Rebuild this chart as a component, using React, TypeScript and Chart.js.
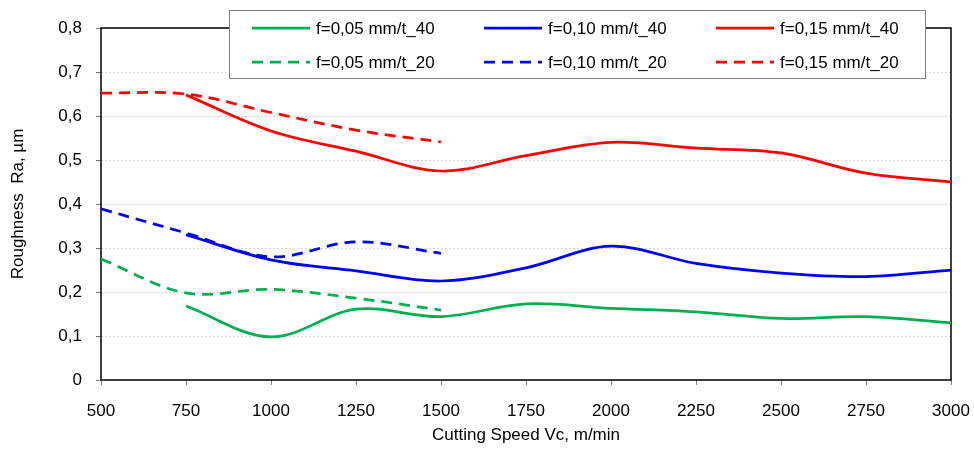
import React, { useEffect, useRef } from "react";
import { Chart, registerables } from "chart.js";

Chart.register(...registerables);

// ---- data ----
const speeds40 = [750, 1000, 1250, 1500, 1750, 2000, 2250, 2500, 2750, 3000];
const speeds20 = [500, 750, 1000, 1250, 1500];

const ra005_40 = [0.168, 0.098, 0.161, 0.144, 0.173, 0.163, 0.155, 0.14, 0.144, 0.13];
const ra010_40 = [0.33, 0.273, 0.248, 0.225, 0.255, 0.304, 0.265, 0.243, 0.235, 0.25];
const ra015_40 = [0.648, 0.566, 0.52, 0.475, 0.51, 0.54, 0.527, 0.516, 0.47, 0.45];

const ra005_20 = [0.275, 0.198, 0.206, 0.186, 0.159];
const ra010_20 = [0.389, 0.334, 0.28, 0.314, 0.288];
const ra015_20 = [0.652, 0.65, 0.608, 0.568, 0.541];

const seriesLabels = [
  "f=0,05 mm/t_40",
  "f=0,10 mm/t_40",
  "f=0,15 mm/t_40",
  "f=0,05 mm/t_20",
  "f=0,10 mm/t_20",
  "f=0,15 mm/t_20",
];

const xMin = 500;
const xMax = 3000;
const xStep = 250;
const yMin = 0;
const yMax = 0.8;
const yStep = 0.1;

const GREEN = "#00B050";
const BLUE = "#0000FF";
const RED = "#FF0000";
const DASH = [11, 7];
const FONT = '"Liberation Sans", Arial, sans-serif';

const toPoints = (xs: number[], ys: number[]) => xs.map((x, i) => ({ x, y: ys[i] }));

const framePlugin = {
  id: "frame",
  beforeDatasetsDraw(chart: any) {
    const { ctx, chartArea } = chart;
    const { left, top, right, bottom } = chartArea;
    ctx.save();
    ctx.strokeStyle = "#000";
    ctx.lineWidth = 1.5;
    ctx.setLineDash([]);
    ctx.strokeRect(left, top, right - left, bottom - top);
    ctx.restore();
  },
};

const legendPlugin = {
  id: "gridLegend",
  afterDraw(chart: any) {
    const { ctx } = chart;
    ctx.save();
    const bx = 229.5, by = 10.5, bw = 696, bh = 68;
    ctx.fillStyle = "#fff";
    ctx.fillRect(bx, by, bw, bh);
    ctx.strokeStyle = "#808080";
    ctx.lineWidth = 1;
    ctx.setLineDash([]);
    ctx.strokeRect(bx, by, bw, bh);
    chart.data.datasets.forEach((ds: any, i: number) => {
      const col = i % 3;
      const row = Math.floor(i / 3);
      const lx = 252 + col * 232;
      const y = 28 + row * 34;
      ctx.beginPath();
      ctx.strokeStyle = ds.borderColor;
      ctx.lineWidth = ds.borderWidth;
      ctx.setLineDash(ds.borderDash || []);
      ctx.moveTo(lx, y);
      ctx.lineTo(lx + 58, y);
      ctx.stroke();
      ctx.setLineDash([]);
      ctx.fillStyle = "#000";
      ctx.font = `17px ${FONT}`;
      ctx.textBaseline = "middle";
      ctx.textAlign = "left";
      ctx.fillText(ds.label, lx + 64, y + 1);
    });
    ctx.restore();
  },
};

export default function App() {
  const ref = useRef<HTMLCanvasElement | null>(null);

  useEffect(() => {
    document.body.style.margin = "0";
    if (!ref.current) return;
    const mk = (label: string, xs: number[], ys: number[], color: string, dashed: boolean) => ({
      label,
      data: toPoints(xs, ys),
      borderColor: color,
      backgroundColor: color,
      borderWidth: 2.75,
      borderDash: dashed ? DASH : [],
      pointRadius: 0,
      tension: 0.35,
      fill: false,
    });
    const chart = new Chart(ref.current, {
      type: "line",
      data: {
        datasets: [
          mk(seriesLabels[0], speeds40, ra005_40, GREEN, false),
          mk(seriesLabels[1], speeds40, ra010_40, BLUE, false),
          mk(seriesLabels[2], speeds40, ra015_40, RED, false),
          mk(seriesLabels[3], speeds20, ra005_20, GREEN, true),
          mk(seriesLabels[4], speeds20, ra010_20, BLUE, true),
          mk(seriesLabels[5], speeds20, ra015_20, RED, true),
        ],
      },
      options: {
        animation: false,
        responsive: false,
        devicePixelRatio: 1,
        layout: { padding: { top: 28, right: 23, left: 0, bottom: 0 } },
        plugins: { legend: { display: false }, tooltip: { enabled: false } },
        font: { family: FONT, size: 17 },
        scales: {
          x: {
            type: "linear",
            min: xMin,
            max: xMax,
            afterFit: (s: any) => {
              s.height = 69;
              s.paddingLeft = 0;
              s.paddingRight = 0;
            },
            ticks: {
              stepSize: xStep,
              autoSkip: false,
              maxRotation: 0,
              padding: 16,
              color: "#000",
              font: { family: FONT, size: 17 },
              callback: (v: any) => String(v),
            },
            grid: {
              drawOnChartArea: false,
              drawTicks: true,
              tickLength: 5,
              tickColor: "#808080",
            },
            border: { display: false },
            title: {
              display: true,
              text: "Cutting Speed Vc, m/min",
              color: "#000",
              font: { family: FONT, size: 17 },
              padding: { top: 4, bottom: 3 },
            },
          },
          y: {
            type: "linear",
            min: yMin,
            max: yMax,
            afterFit: (s: any) => {
              s.width = 101;
              s.paddingTop = 0;
              s.paddingBottom = 0;
            },
            ticks: {
              stepSize: yStep,
              padding: 14,
              color: "#000",
              font: { family: FONT, size: 17 },
              callback: (v: any) => (Number(v) === 0 ? "0" : Number(v).toFixed(1).replace(".", ",")),
            },
            grid: {
              color: "#d4d4d4",
              lineWidth: 1,
              borderDash: [2, 2],
              tickLength: 5,
              tickColor: "#808080",
              tickBorderDash: [],
            } as any,
            border: { display: false, dash: [2, 2] },
            title: {
              display: true,
              text: "Roughness  Ra, µm",
              color: "#000",
              font: { family: FONT, size: 17 },
              padding: { top: 8, bottom: 4 },
            },
          },
        },
      } as any,
      plugins: [framePlugin, legendPlugin],
    });
    return () => chart.destroy();
  }, []);

  return (
    <div style={{ width: 974, height: 449 }}>
      <canvas ref={ref} width={974} height={449} style={{ display: "block" }} />
    </div>
  );
}
